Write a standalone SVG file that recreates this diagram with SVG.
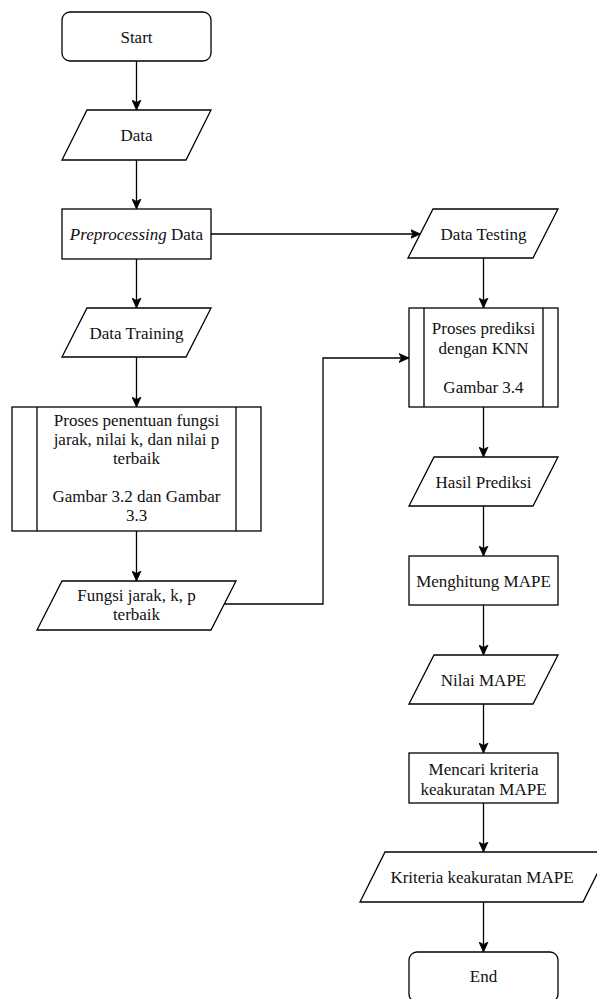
<svg xmlns="http://www.w3.org/2000/svg" width="597" height="999" viewBox="0 0 597 999">
<style>
.s{fill:#fff;stroke:#000;stroke-width:1.3}
.c{fill:none;stroke:#000;stroke-width:1.3}
text{font-family:"Liberation Serif","Times New Roman",serif;font-size:17px;fill:#111;text-anchor:middle}
</style>
<defs>
<marker id="a" markerUnits="userSpaceOnUse" markerWidth="12" markerHeight="10" refX="10" refY="5" orient="auto">
<path d="M0,0.5 L10,5 L0,9.5 L2.5,5 z" fill="#000" stroke="#000" stroke-width="0.8"/>
</marker>
</defs>
<rect width="597" height="999" fill="#fff"/>
<g id="connectors">
<line class="c" x1="136.5" y1="61" x2="136.5" y2="110" marker-end="url(#a)"/>
<line class="c" x1="136.5" y1="160" x2="136.5" y2="209" marker-end="url(#a)"/>
<line class="c" x1="136.5" y1="259" x2="136.5" y2="308" marker-end="url(#a)"/>
<line class="c" x1="136.5" y1="357" x2="136.5" y2="407" marker-end="url(#a)"/>
<line class="c" x1="136.5" y1="531" x2="136.5" y2="581" marker-end="url(#a)"/>
<line class="c" x1="211" y1="234" x2="420.5" y2="234" marker-end="url(#a)"/>
<line class="c" x1="483.5" y1="258" x2="483.5" y2="308" marker-end="url(#a)"/>
<polyline class="c" points="224,604 323,604 323,358 409,358" marker-end="url(#a)"/>
<line class="c" x1="483.5" y1="407" x2="483.5" y2="457" marker-end="url(#a)"/>
<line class="c" x1="483.5" y1="506" x2="483.5" y2="556" marker-end="url(#a)"/>
<line class="c" x1="483.5" y1="605" x2="483.5" y2="655" marker-end="url(#a)"/>
<line class="c" x1="483.5" y1="704" x2="483.5" y2="753" marker-end="url(#a)"/>
<line class="c" x1="483.5" y1="803" x2="483.5" y2="852" marker-end="url(#a)"/>
<line class="c" x1="483.5" y1="902" x2="483.5" y2="952" marker-end="url(#a)"/>
</g>
<g id="start">
<rect class="s" x="62" y="12" width="149" height="49" rx="8"/>
<text x="136.5" y="42.5">Start</text>
</g>
<g id="data">
<polygon class="s" points="87,110 211,110 186,160 62,160"/>
<text x="136.5" y="141">Data</text>
</g>
<g id="preprocessing">
<rect class="s" x="62" y="209" width="149" height="50"/>
<text x="136.5" y="240"><tspan font-style="italic">Preprocessing</tspan> Data</text>
</g>
<g id="data-training">
<polygon class="s" points="87,308 211,308 186,357 62,357"/>
<text x="136.5" y="338.5">Data Training</text>
</g>
<g id="proses-penentuan">
<rect class="s" x="12" y="407" width="249" height="124"/>
<line class="c" x1="37" y1="407" x2="37" y2="531"/>
<line class="c" x1="236" y1="407" x2="236" y2="531"/>
<text x="136.5" y="426">Proses penentuan fungsi</text>
<text x="136.5" y="445">jarak, nilai k, dan nilai p</text>
<text x="136.5" y="464">terbaik</text>
<text x="136.5" y="502">Gambar 3.2 dan Gambar</text>
<text x="136.5" y="521">3.3</text>
</g>
<g id="fungsi">
<polygon class="s" points="62,581 236,581 211,630 37,630"/>
<text x="136.5" y="601">Fungsi jarak, k, p</text>
<text x="136.5" y="620">terbaik</text>
</g>
<g id="data-testing">
<polygon class="s" points="433,209 558,209 533,258 408,258"/>
<text x="483.5" y="239.5">Data Testing</text>
</g>
<g id="proses-prediksi">
<rect class="s" x="409" y="308" width="149" height="99"/>
<line class="c" x1="424" y1="308" x2="424" y2="407"/>
<line class="c" x1="543" y1="308" x2="543" y2="407"/>
<text x="483.5" y="334">Proses prediksi</text>
<text x="483.5" y="353.5">dengan KNN</text>
<text x="483.5" y="392.5">Gambar 3.4</text>
</g>
<g id="hasil-prediksi">
<polygon class="s" points="434,457 558,457 533,506 409,506"/>
<text x="483.5" y="487.5">Hasil Prediksi</text>
</g>
<g id="menghitung-mape">
<rect class="s" x="409" y="556" width="149" height="49"/>
<text x="483.5" y="586.5">Menghitung MAPE</text>
</g>
<g id="nilai-mape">
<polygon class="s" points="434,655 558,655 533,704 409,704"/>
<text x="483.5" y="685.5">Nilai MAPE</text>
</g>
<g id="mencari-kriteria">
<rect class="s" x="409" y="753" width="149" height="50"/>
<text x="483.5" y="774.5">Mencari kriteria</text>
<text x="483.5" y="794.5">keakuratan MAPE</text>
</g>
<g id="kriteria">
<polygon class="s" points="385,852 608,852 583,902 360,902"/>
<text x="482" y="883">Kriteria keakuratan MAPE</text>
</g>
<g id="end">
<rect class="s" x="409" y="952" width="149" height="50" rx="8"/>
<text x="483.5" y="982">End</text>
</g>
</svg>
